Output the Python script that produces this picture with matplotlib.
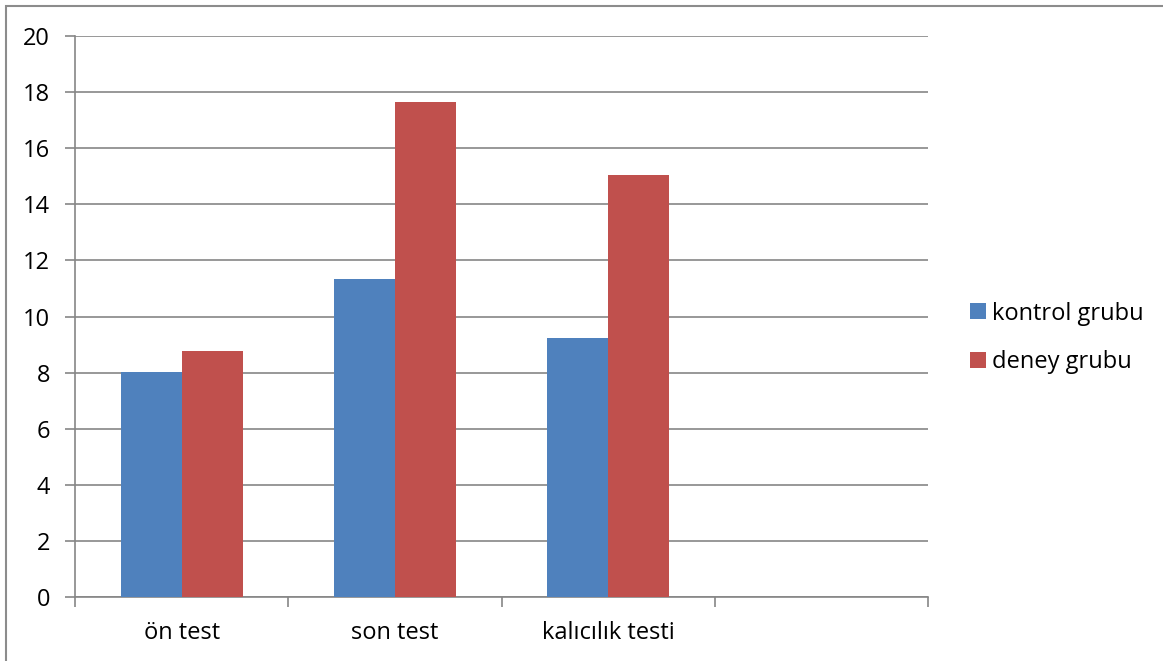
import matplotlib
matplotlib.use("Agg")
import matplotlib.pyplot as plt
from matplotlib.patches import Rectangle
from matplotlib.ticker import FixedLocator, NullFormatter
import numpy as np

categories = ["ön test", "son test", "kalıcılık testi", ""]
kontrol = [8.02, 11.33, 9.22]
deney = [8.77, 17.63, 15.03]
series_names = ["kontrol grubu", "deney grubu"]
yticks = list(range(0, 21, 2))

blue = "#4F81BD"
red = "#C0504D"
grid = "#868686"

plt.rcParams["font.family"] = ["Open Sans", "DejaVu Sans"]
fs = 17

fig = plt.figure(figsize=(11.63, 6.61), dpi=100)
W, H = 1163, 661

# outer chart border
fig.patches.append(Rectangle((6 / W, -0.01), 1.2, (H - 6) / H + 0.01,
                             transform=fig.transFigure, fill=False,
                             edgecolor="#8C8C8C", linewidth=1.5))

ax = fig.add_axes([75 / W, (H - 597) / H, (928 - 75) / W, (597 - 36) / H])

n = len(categories)
x = np.arange(len(kontrol))
bw = 0.286
ax.bar(x - bw / 2, kontrol, width=bw, color=blue, label=series_names[0], zorder=3)
ax.bar(x + bw / 2, deney, width=bw, color=red, label=series_names[1], zorder=3)

ax.set_xlim(-0.5, n - 0.5)
ax.set_ylim(0, 20)
ax.set_yticks(yticks)
ax.yaxis.grid(True, color=grid, linewidth=1.2, zorder=0)
ax.set_axisbelow(True)

for s in ["top", "right"]:
    ax.spines[s].set_visible(False)
ax.spines["left"].set_color(grid)
ax.spines["bottom"].set_color(grid)
ax.spines["left"].set_linewidth(1.2)
ax.spines["bottom"].set_linewidth(1.2)

ax.tick_params(axis="y", length=7, width=1.2, color=grid, labelsize=fs, pad=11)
# category boundary ticks, labels centered in each slot
ax.xaxis.set_major_locator(FixedLocator(np.arange(n + 1) - 0.5))
ax.xaxis.set_major_formatter(NullFormatter())
ax.xaxis.set_minor_locator(FixedLocator(np.arange(n)))
ax.set_xticklabels(categories, minor=True)
ax.tick_params(axis="x", which="major", length=7, width=1.2, color=grid)
ax.tick_params(axis="x", which="minor", length=0, labelsize=fs, pad=17)

ax.legend(loc="center left", bbox_to_anchor=(1.049, 0.462), frameon=False,
          fontsize=fs, handlelength=0.68, handleheight=0.68, handletextpad=0.26,
          labelspacing=1.04, borderpad=0, borderaxespad=0)

fig.savefig("out.png", dpi=100)
